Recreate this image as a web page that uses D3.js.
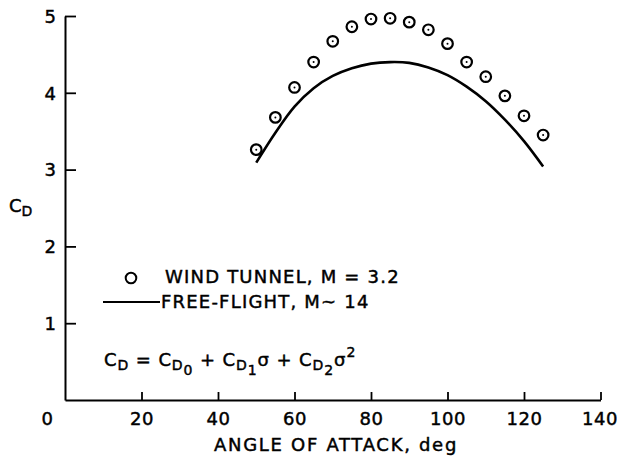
<!DOCTYPE html>
<html><head><meta charset="utf-8">
<script src="https://cdn.jsdelivr.net/npm/d3@7"></script>
<style>body{margin:0;background:#fff}svg{display:block}text{stroke:#000;stroke-width:0.45px}</style>
</head><body><svg id="c" width="617" height="458"></svg>
<script>
const angles = [50,55,60,65,70,75,80,85,90,95,100,105,110,115,120,125];
const windTunnel = [3.26,3.68,4.07,4.40,4.67,4.86,4.96,4.97,4.92,4.82,4.64,4.40,4.21,3.96,3.70,3.45];
const freeFlight = [3.09,3.48,3.82,4.06,4.22,4.32,4.38,4.40,4.39,4.33,4.23,4.08,3.89,3.65,3.37,3.04];
const xTicks = [0,20,40,60,80,100,120,140];
const yTicks = [1,2,3,4,5];
const legendLabels = ["WIND TUNNEL, M = 3.2", "FREE-FLIGHT, M~ 14"];
const xTitle = "ANGLE OF ATTACK, deg";

const FONT = "DejaVu Sans";
const FS = 18;
const svg = d3.select("#c");
const x = d3.scaleLinear().domain([0,140]).range([65,600.5]);
const y = d3.scaleLinear().domain([0,5]).range([400,16]);

// X axis
const gx = svg.append("g").attr("transform","translate(0,400)")
  .call(d3.axisBottom(x).tickValues(xTicks).tickSizeInner(-8).tickSizeOuter(0).tickPadding(0).tickFormat(d=>d));
gx.select(".domain").attr("stroke","#000").attr("stroke-width",2.2);
gx.selectAll(".tick line").attr("stroke","#000").attr("stroke-width",1.8);
gx.selectAll(".tick").filter(d=>d===0).select("line").remove();
gx.selectAll(".tick text").attr("font-family",FONT).attr("font-size",FS).attr("fill","#000")
  .attr("letter-spacing",0.5).attr("x",0).attr("y",19).attr("dy","0.35em");
gx.selectAll(".tick").filter(d=>d===0).select("text").attr("x",-18);
gx.selectAll(".tick").filter(d=>d===140).select("text").attr("x",-1);

// Y axis
const gy = svg.append("g").attr("transform","translate(65,0)")
  .call(d3.axisLeft(y).tickValues(yTicks).tickSizeInner(-11).tickSizeOuter(0).tickPadding(0).tickFormat(d=>d));
gy.select(".domain").attr("stroke","#000").attr("stroke-width",2);
gy.selectAll(".tick line").attr("stroke","#000").attr("stroke-width",1.8);
gy.selectAll(".tick text").attr("font-family",FONT).attr("font-size",FS).attr("fill","#000")
  .attr("x",-9).attr("dy","0.35em");
svg.selectAll(".domain").attr("fill","none");

// Axis titles
svg.append("text").attr("x",336).attr("y",445).attr("dy","0.35em").attr("text-anchor","middle")
  .attr("letter-spacing",1.7).attr("font-family",FONT).attr("font-size",FS).text(xTitle);
const cd = svg.append("text").attr("x",9).attr("y",212).attr("font-family",FONT).attr("font-size",FS);
cd.append("tspan").text("C");
cd.append("tspan").attr("font-size",14).attr("dy",4).text("D");

// Free-flight curve
const line = d3.line().x((d,i)=>x(angles[i])).y(d=>y(d)).curve(d3.curveCatmullRom);
svg.append("path").datum(freeFlight).attr("d",line).attr("fill","none")
  .attr("stroke","#000").attr("stroke-width",2.6);

// Wind tunnel points
const pts = svg.append("g").selectAll("g").data(windTunnel).join("g")
  .attr("transform",(d,i)=>`translate(${x(angles[i])},${y(d)})`);
pts.append("circle").attr("r",5.3).attr("fill","#fff").attr("stroke","#000").attr("stroke-width",2.2);
pts.append("circle").attr("r",1).attr("fill","#000");

// Legend
svg.append("circle").attr("cx",131).attr("cy",278).attr("r",5.3).attr("fill","none").attr("stroke","#000").attr("stroke-width",2);
svg.append("text").attr("x",165).attr("y",277).attr("dy","0.35em").attr("letter-spacing",1.2)
  .attr("font-family",FONT).attr("font-size",FS).text(legendLabels[0]);
svg.append("line").attr("x1",103).attr("x2",160).attr("y1",302).attr("y2",302).attr("stroke","#000").attr("stroke-width",2);
svg.append("text").attr("x",161).attr("y",302).attr("dy","0.35em").attr("letter-spacing",1.2)
  .attr("font-family",FONT).attr("font-size",FS).text(legendLabels[1]);

// Formula
const f = svg.append("text").attr("x",104).attr("y",366).attr("font-family",FONT).attr("font-size",FS)
  .attr("letter-spacing",0.9).attr("xml:space","preserve");
const parts = [["C",0],["D",1],[" = C",0],["D",1],["0",2],[" + C",0],["D",1],["1",2],["σ + C",0],["D",1],["2",2],["σ",0],["2",3]];
let cur = 0;
parts.forEach(([t,lvl])=>{
  const target = lvl===0?0: lvl===1?4: lvl===2?9: -9;
  const size = lvl===0?FS:14;
  f.append("tspan").attr("dy",target-cur).attr("font-size",size).text(t);
  cur = target;
});
</script></body></html>
